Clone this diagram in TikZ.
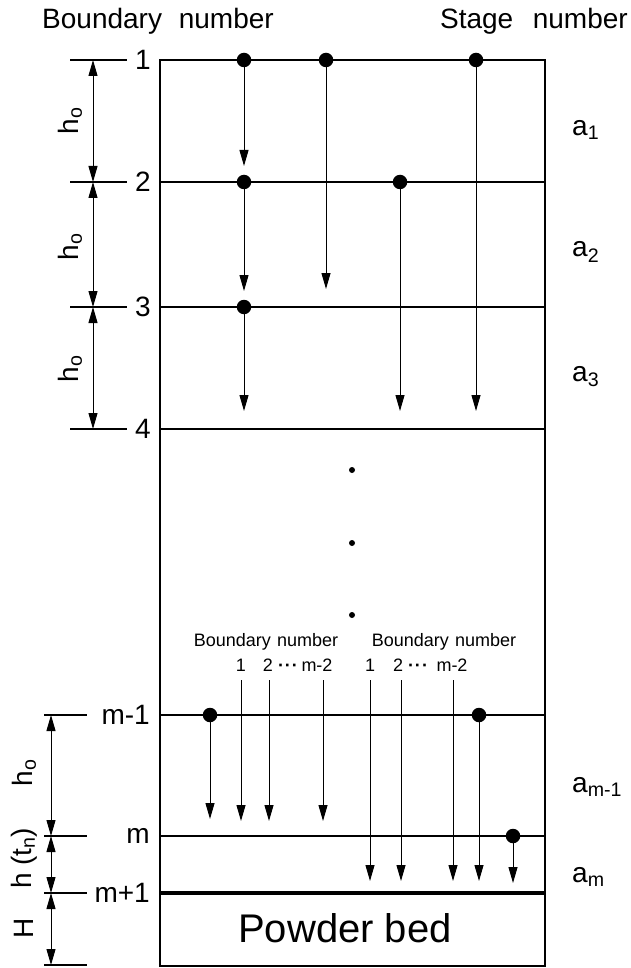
\documentclass[tikz,border=0pt]{standalone}
\usepackage{fontspec}
\setmainfont{Liberation Sans}
\usetikzlibrary{arrows.meta}
\begin{document}
\begin{tikzpicture}[x=1pt,y=-1pt,
  box/.style={line width=2.2pt},
  bline/.style={line width=1.8pt},
  tickline/.style={line width=1.2pt},
  arr/.style={line width=1pt,-{Triangle[length=16pt,width=9pt]}},
  dimarr/.style={line width=1pt,{Triangle[length=16pt,width=9pt]}-{Triangle[length=16pt,width=9pt]}},
  dot/.style={circle,fill=black,inner sep=0pt,minimum size=14.5pt},
  sdot/.style={circle,fill=black,inner sep=0pt,minimum size=6pt},
  big/.style={font=\fontsize{28}{32}\selectfont,inner sep=0pt},
  lab/.style={font=\fontsize{28}{32}\selectfont,inner sep=0pt},
  small/.style={font=\fontsize{18}{21}\selectfont,inner sep=0pt,anchor=base}
]
\useasboundingbox (0,0) rectangle (631,968);

% titles
\node[big,anchor=west] (title1) at (42,21) {Boundary\hspace{0.6em}number};
\node[big,anchor=east] (title2) at (628,21) {Stage\hspace{0.7em}number};

% main box and boundary lines
\draw[box] (160,60) rectangle (545,966);
\foreach \y in {182,307,429,715,836} \draw[bline] (160,\y) -- (545,\y);
\draw[line width=3.2pt] (160,893) -- (545,893);

% upper ticks and labels
\foreach \y/\t [count=\i] in {60/1,182/2,307/3,429/4}{
  \coordinate (ut\i) at (93,\y);
  \draw[tickline] (70,\y) -- (127,\y);
  \node[lab] (ul\i) at (143,\y) {\t};
}
% lower ticks and labels
\foreach \y/\t [count=\i] in {715/m-1,836/m,893/m+1}{
  \coordinate (lt\i) at (51,\y);
  \draw[tickline] (44,\y) -- (87,\y);
  \node[lab,anchor=east] (ll\i) at (150,\y) {\t};
}
\coordinate (lt4) at (51,965);
\draw[tickline] (44,965) -- (87,965);

% dimension arrows
\draw[dimarr] (ut1) -- (ut2);
\draw[dimarr] (ut2) -- (ut3);
\draw[dimarr] (ut3) -- (ut4);
\draw[dimarr] (lt1) -- (lt2);
\draw[dimarr] (lt2) -- (lt3);
\draw[dimarr] (lt3) -- (lt4);

\node[lab,rotate=90] (ho1) at (70,121) {h\textsubscript{o}};
\node[lab,rotate=90] (ho2) at (70,247) {h\textsubscript{o}};
\node[lab,rotate=90] (ho3) at (70,369) {h\textsubscript{o}};
\node[lab,rotate=90] (ho4) at (24,773) {h\textsubscript{o}};
\node[lab,rotate=90] (htn) at (24,858) {h\hspace{0.25em}(t\textsubscript{n})};
\node[lab,rotate=90] (HH) at (24,928) {H};

% stage labels
\node[lab,anchor=west] (a1) at (572,130) {a\textsubscript{1}};
\node[lab,anchor=west] (a2) at (572,252) {a\textsubscript{2}};
\node[lab,anchor=west] (a3) at (572,377) {a\textsubscript{3}};
\node[lab,anchor=west] (am1) at (572,787) {a\textsubscript{m-1}};
\node[lab,anchor=west] (am) at (572,877) {a\textsubscript{m}};

% upper dots and arrows
\node[dot] (d11) at (244,60) {};
\node[dot] (d12) at (326,60) {};
\node[dot] (d13) at (476,60) {};
\node[dot] (d21) at (244,182) {};
\node[dot] (d22) at (400,182) {};
\node[dot] (d31) at (244,307) {};
\coordinate (e11) at (244,166);
\coordinate (e12) at (326,289);
\coordinate (e13) at (476,411);
\coordinate (e21) at (244,291);
\coordinate (e22) at (400,411);
\coordinate (e31) at (244,411);
\draw[arr] (d11) -- (e11);
\draw[arr] (d12) -- (e12);
\draw[arr] (d13) -- (e13);
\draw[arr] (d21) -- (e21);
\draw[arr] (d22) -- (e22);
\draw[arr] (d31) -- (e31);

% ellipsis dots
\node[sdot] (v1) at (352,470) {};
\node[sdot] (v2) at (352,543) {};
\node[sdot] (v3) at (352,615) {};

% middle labels
\node[small,anchor=center] (bn1) at (266,642) {Boundary\hspace{0.35em}number};
\node[small,anchor=center] (bn2) at (444,642) {Boundary\hspace{0.35em}number};
\node[small] (na1) at (241,671) {1};
\node[small] (na2) at (268,671) {2};
\node[small] (nad) at (288,671) {\textbf{·\kern1pt·\kern1pt·}};
\node[small] (nam) at (317,671) {m-2};
\node[small] (nb1) at (370,671) {1};
\node[small] (nb2) at (398,671) {2};
\node[small] (nbd) at (418,671) {\textbf{·\kern1pt·\kern1pt·}};
\node[small] (nbm) at (452,671) {m-2};

% lower arrows
\node[dot] (dm1a) at (210,715) {};
\node[dot] (dm1b) at (479,715) {};
\node[dot] (dma) at (513,836) {};
\coordinate (sa1) at (241,680);
\coordinate (sa2) at (269,680);
\coordinate (sa3) at (323,680);
\coordinate (sb1) at (370,680);
\coordinate (sb2) at (401,680);
\coordinate (sb3) at (453,680);
\coordinate (fa0) at (210,819);
\coordinate (fa1) at (241,821);
\coordinate (fa2) at (269,821);
\coordinate (fa3) at (323,821);
\coordinate (fb1) at (370,881);
\coordinate (fb2) at (401,881);
\coordinate (fb3) at (453,881);
\coordinate (fb4) at (479,881);
\coordinate (fb5) at (513,883);
\draw[arr] (dm1a) -- (fa0);
\draw[arr] (sa1) -- (fa1);
\draw[arr] (sa2) -- (fa2);
\draw[arr] (sa3) -- (fa3);
\draw[arr] (sb1) -- (fb1);
\draw[arr] (sb2) -- (fb2);
\draw[arr] (sb3) -- (fb3);
\draw[arr] (dm1b) -- (fb4);
\draw[arr] (dma) -- (fb5);

% powder bed
\node[font=\fontsize{40}{46}\selectfont,inner sep=0pt] (pb) at (345,928) {Powder bed};
\end{tikzpicture}
\end{document}
